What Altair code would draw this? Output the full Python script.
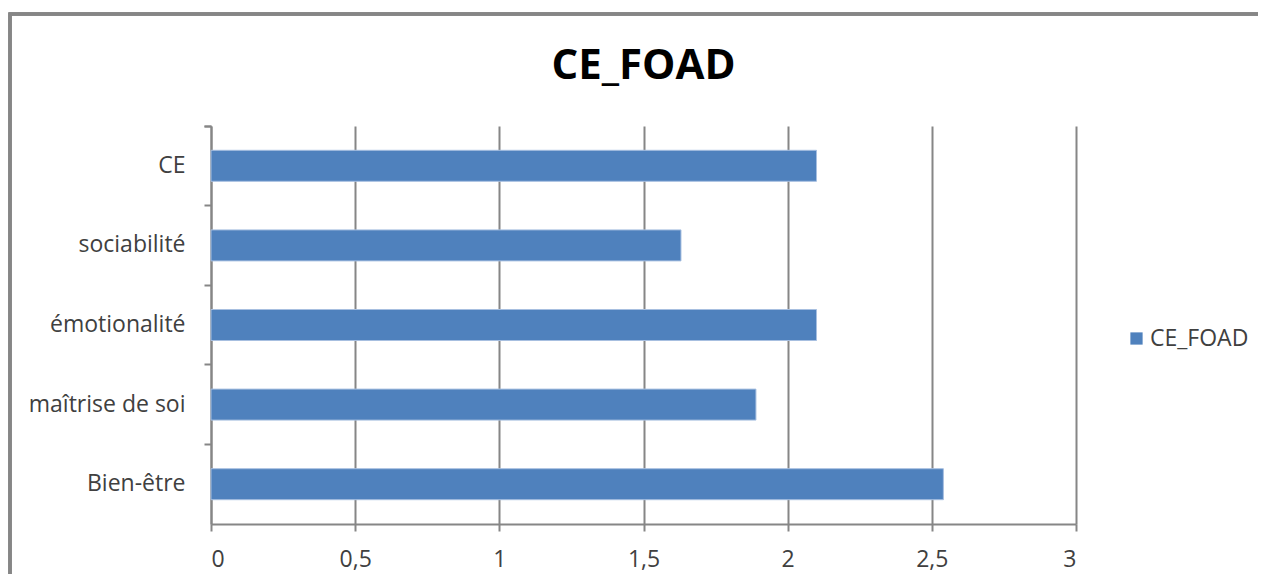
import altair as alt
import pandas as pd

categories = ["CE", "sociabilité", "émotionalité", "maîtrise de soi", "Bien-être"]
values = [2.1, 1.63, 2.1, 1.89, 2.54]
series = ["CE_FOAD"] * len(categories)
title_text = "CE_FOAD"

df = pd.DataFrame({"cat": categories, "val": values, "serie": series})

W, H = 865, 398
grey = "#868686"
txt = "#404040"
font = "Open Sans"

bars = alt.Chart(df).mark_bar(size=31, stroke="#a7bfe0", strokeWidth=1).encode(
    y=alt.Y("cat:N", sort=categories, title=None,
            scale=alt.Scale(paddingInner=0, paddingOuter=0),
            axis=alt.Axis(bandPosition=0, tickExtra=True, tickSize=7, tickWidth=2,
                          tickColor=grey, domainColor=grey, domainWidth=2,
                          labelFontSize=23, labelColor=txt, labelFont=font,
                          labelPadding=19, grid=False)),
    x=alt.X("val:Q", title=None,
            scale=alt.Scale(domain=[0, 3], nice=False),
            axis=alt.Axis(values=[0, 0.5, 1, 1.5, 2, 2.5, 3],
                          labelExpr="replace(format(datum.value, '~g'), '.', ',')",
                          tickSize=7, tickWidth=2, tickColor=grey,
                          domainColor=grey, domainWidth=2,
                          grid=True, gridColor=grey, gridWidth=2,
                          labelFontSize=23, labelColor=txt, labelFont=font,
                          labelPadding=17)),
    color=alt.Color("serie:N", title=None,
                    scale=alt.Scale(range=["#4F81BD"]),
                    legend=alt.Legend(orient="none", legendX=914, legendY=201,
                                      symbolType="square", symbolSize=150,
                                      symbolStrokeWidth=0,
                                      labelFontSize=23, labelColor=txt, labelFont=font,
                                      labelOffset=2)),
)

frame = alt.Chart(df).mark_rect(filled=False, stroke=grey, strokeWidth=3, clip=False).encode(
    x=alt.value(-201), x2=alt.value(1100), y=alt.value(-112), y2=alt.value(520)
)

title = alt.Chart(pd.DataFrame({"t": [title_text]})).mark_text(
    font=font, fontSize=42, fontWeight="bold", color="#000000",
    align="center", baseline="alphabetic"
).encode(text="t:N", x=alt.value(W / 2), y=alt.value(-47))

chart = alt.layer(frame, bars, title).properties(
    width=W, height=H,
    padding={"left": 203, "top": 118, "right": 182, "bottom": 50},
    autosize=alt.AutoSizeParams(type="none"),
).configure_view(stroke=None)

chart.save("out.html", embed_options={"renderer": "svg", "actions": False})
